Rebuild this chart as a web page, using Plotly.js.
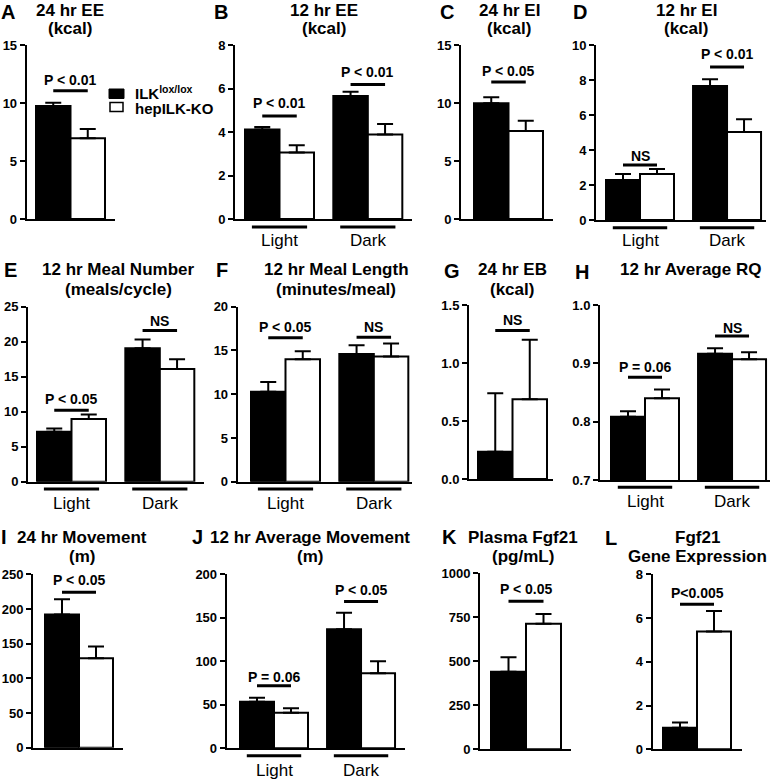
<!DOCTYPE html>
<html>
<head>
<meta charset="utf-8">
<script src="https://cdn.plot.ly/plotly-3.0.1.min.js"></script>
<style>html,body{margin:0;padding:0;background:#fff;}#chart{width:777px;height:779px;}</style>
</head>
<body>
<div id="chart"></div>
<script>
// ---------------- DATA ----------------
const periods = ['Light', 'Dark'];
const seriesNames = ['ILK<sup>lox/lox</sup>', 'hepILK-KO'];

// A 24 hr EE (kcal)
const A_ctrl = [9.74], A_ctrl_err = [0.29], A_ko = [6.96], A_ko_err = [0.80];
// B 12 hr EE (kcal)  [Light, Dark]
const B_ctrl = [4.11, 5.66], B_ctrl_err = [0.12, 0.19], B_ko = [3.06, 3.89], B_ko_err = [0.33, 0.48];
// C 24 hr EI (kcal)
const C_ctrl = [9.97], C_ctrl_err = [0.53], C_ko = [7.59], C_ko_err = [0.88];
// D 12 hr EI (kcal)
const D_ctrl = [2.29, 7.66], D_ctrl_err = [0.34, 0.38], D_ko = [2.63, 5.03], D_ko_err = [0.28, 0.72];
// E 12 hr Meal Number
const E_ctrl = [7.14, 19.05], E_ctrl_err = [0.46, 1.25], E_ko = [8.96, 16.1], E_ko_err = [0.64, 1.4];
// F 12 hr Meal Length
const F_ctrl = [10.29, 14.6], F_ctrl_err = [1.1, 1.0], F_ko = [14.0, 14.3], F_ko_err = [0.9, 1.5];
// G 24 hr EB (kcal)
const G_ctrl = [0.235], G_ctrl_err = [0.505], G_ko = [0.687], G_ko_err = [0.513];
// H 12 hr Average RQ
const H_ctrl = [0.8085, 0.9165], H_ctrl_err = [0.0095, 0.0095], H_ko = [0.840, 0.907], H_ko_err = [0.015, 0.012];
// I 24 hr Movement (m)
const I_ctrl = [192], I_ctrl_err = [22], I_ko = [129], I_ko_err = [17];
// J 12 hr Average Movement (m)
const J_ctrl = [53.6, 136.8], J_ctrl_err = [4.6, 19], J_ko = [40.9, 86.2], J_ko_err = [5, 14];
// K Plasma Fgf21 (pg/mL)
const K_ctrl = [441], K_ctrl_err = [82], K_ko = [714], K_ko_err = [55];
// L Fgf21 Gene Expression
const L_ctrl = [0.99], L_ctrl_err = [0.23], L_ko = [5.38], L_ko_err = [0.94];

// significance labels
const A_sig = ['P < 0.01'], B_sig = ['P < 0.01', 'P < 0.01'], C_sig = ['P < 0.05'], D_sig = ['NS', 'P < 0.01'];
const E_sig = ['P < 0.05', 'NS'], F_sig = ['P < 0.05', 'NS'], G_sig = ['NS'], H_sig = ['P = 0.06', 'NS'];
const I_sig = ['P < 0.05'], J_sig = ['P = 0.06', 'P < 0.05'], K_sig = ['P < 0.05'], L_sig = ['P<0.005'];

// y tick values
const A_ticks = [0, 5, 10, 15], B_ticks = [0, 2, 4, 6, 8], C_ticks = [0, 5, 10, 15], D_ticks = [0, 2, 4, 6, 8, 10];
const E_ticks = [0, 5, 10, 15, 20, 25], F_ticks = [0, 5, 10, 15, 20], G_ticks = [0, 0.5, 1.0, 1.5], H_ticks = [0.7, 0.8, 0.9, 1.0];
const I_ticks = [0, 50, 100, 150, 200, 250], J_ticks = [0, 50, 100, 150, 200], K_ticks = [0, 250, 500, 750, 1000], L_ticks = [0, 2, 4, 6, 8];
const G_tickText = ['0.0', '0.5', '1.0', '1.5'];
const H_tickText = ['0.7', '0.8', '0.9', '1.0'];

// ---------------- LAYOUT CONFIG (positions / styles) ----------------
const W = 777, H = 779;
const FONT = '"Liberation Sans", Arial, Helvetica, sans-serif';
const GAP = 2.56;

const panels = [
  {L:'A', lx:8, ly:10, t1:'24 hr EE', t2:'(kcal)', tx:70, ty1:9, ty2:28, x0:26.7, x1:115, top:45, bot:219, bl:36, w:34.5,
   yr:[0,15], ticks:A_ticks, ctrl:A_ctrl, ce:A_ctrl_err, ko:A_ko, ke:A_ko_err, sig:A_sig, sy:[11.06], ty:[12.0]},
  {L:'B', lx:221, ly:10, t1:'12 hr EE', t2:'(kcal)', tx:324, ty1:9, ty2:28, x0:235, x1:412, top:45, bot:219, bl:245, w:34.5,
   yr:[0,8], ticks:B_ticks, ctrl:B_ctrl, ce:B_ctrl_err, ko:B_ko, ke:B_ko_err, sig:B_sig, sy:[4.74,6.18], ty:[5.33,6.76], ul:227, ull:240},
  {L:'C', lx:447, ly:10, t1:'24 hr EI', t2:'(kcal)', tx:509, ty1:9, ty2:28, x0:461, x1:553, top:45, bot:219, bl:474, w:34.5,
   yr:[0,15], ticks:C_ticks, ctrl:C_ctrl, ce:C_ctrl_err, ko:C_ko, ke:C_ko_err, sig:C_sig, sy:[11.8], ty:[12.76]},
  {L:'D', lx:580, ly:10, t1:'12 hr EI', t2:'(kcal)', tx:686, ty1:9, ty2:28, x0:596, x1:766, top:45, bot:220, bl:606, w:34,
   yr:[0,10], ticks:D_ticks, ctrl:D_ctrl, ce:D_ctrl_err, ko:D_ko, ke:D_ko_err, sig:D_sig, sy:[3.14,8.74], ty:[3.66,9.47], ul:227.7, ull:240},
  {L:'E', lx:10, ly:270, t1:'12 hr Meal Number', t2:'(meals/cycle)', tx:118, ty1:270, ty2:289, x0:28, x1:204, top:306.7, bot:481.7, bl:37, w:34.5,
   yr:[0,25], ticks:E_ticks, ctrl:E_ctrl, ce:E_ctrl_err, ko:E_ko, ke:E_ko_err, sig:E_sig, sy:[10.2,21.6], ty:[11.8,22.96], ul:489, ull:503},
  {L:'F', lx:222, ly:270, t1:'12 hr Meal Length', t2:'(minutes/meal)', tx:336, ty1:270, ty2:289, x0:237.7, x1:412, top:306.7, bot:481.7, bl:251, w:34.5,
   yr:[0,20], ticks:F_ticks, ctrl:F_ctrl, ce:F_ctrl_err, ko:F_ko, ke:F_ko_err, sig:F_sig, sy:[16.46,16.5], ty:[17.7,17.7], ul:489, ull:503},
  {L:'G', lx:452, ly:271, t1:'24 hr EB', t2:'(kcal)', tx:512, ty1:270, ty2:289, x0:469, x1:553, top:305, bot:479, bl:478, w:34.5,
   yr:[0,1.5], ticks:G_ticks, tickText:G_tickText, ctrl:G_ctrl, ce:G_ctrl_err, ko:G_ko, ke:G_ko_err, sig:G_sig, sy:[1.28], ty:[1.37]},
  {L:'H', lx:582, ly:272, t1:'12 hr Average RQ', t2:'', tx:690, ty1:270, ty2:289, x0:600, x1:770, top:305, bot:480, bl:611, w:34,
   yr:[0.7,1.0], ticks:H_ticks, tickText:H_tickText, ctrl:H_ctrl, ce:H_ctrl_err, ko:H_ko, ke:H_ko_err, sig:H_sig, sy:[0.876,0.947], ty:[0.894,0.961], ul:487.3, ull:501},
  {L:'I', lx:4, ly:537, t1:'24 hr Movement', t2:'(m)', tx:82, ty1:537, ty2:556, x0:33, x1:123, top:574.3, bot:747.7, bl:45, w:34,
   yr:[0,250], ticks:I_ticks, ctrl:I_ctrl, ce:I_ctrl_err, ko:I_ko, ke:I_ko_err, sig:I_sig, sy:[224], ty:[242]},
  {L:'J', lx:197, ly:537, t1:'12 hr Average Movement', t2:'(m)', tx:310, ty1:537, ty2:556, x0:226.7, x1:405, top:574.3, bot:748.3, bl:240, w:34,
   yr:[0,200], ticks:J_ticks, ctrl:J_ctrl, ce:J_ctrl_err, ko:J_ko, ke:J_ko_err, sig:J_sig, sy:[72,168.6], ty:[82.4,182.4], ul:755.7, ull:770},
  {L:'K', lx:450, ly:537, t1:'Plasma Fgf21', t2:'(pg/mL)', tx:523, ty1:537, ty2:556, x0:480, x1:571, top:573.3, bot:749.3, bl:491, w:35,
   yr:[0,1000], ticks:K_ticks, ctrl:K_ctrl, ce:K_ctrl_err, ko:K_ko, ke:K_ko_err, sig:K_sig, sy:[841], ty:[909]},
  {L:'L', lx:611, ly:538, t1:'Fgf21', t2:'Gene Expression', tx:697, ty1:537, ty2:556, x0:652.7, x1:741.7, top:574.3, bot:749.3, bl:663, w:34,
   yr:[0,8], ticks:L_ticks, ctrl:L_ctrl, ce:L_ctrl_err, ko:L_ko, ke:L_ko_err, sig:L_sig, sy:[6.63], ty:[7.13]}
];

const px = p => p / W;
const py = p => 1 - p / H;

const data = [];
const layout = {
  width: W, height: H,
  margin: {l: 0, r: 0, t: 0, b: 0, pad: 0},
  paper_bgcolor: '#fff', plot_bgcolor: 'rgba(0,0,0,0)',
  showlegend: false, barmode: 'overlay',
  font: {family: FONT, color: '#000'},
  shapes: [], annotations: []
};

panels.forEach((p, i) => {
  const n = i + 1;
  const xs = n === 1 ? '' : String(n);
  const xa = 'x' + xs, ya = 'y' + xs;
  const cx = p.ctrl.map((_, g) => g * GAP);
  const kx = p.ko.map((_, g) => g * GAP + 1);
  const zeros = p.ctrl.map(() => 0);

  data.push({
    type: 'bar', name: seriesNames[0], x: cx, y: p.ctrl, width: 1, xaxis: xa, yaxis: ya,
    marker: {color: '#000', line: {color: '#000', width: 2}},
    error_y: {type: 'data', symmetric: false, array: p.ce, arrayminus: zeros, color: '#000', thickness: 2, width: 8},
    hoverinfo: 'y'
  });
  data.push({
    type: 'bar', name: seriesNames[1], x: kx, y: p.ko, width: 1, xaxis: xa, yaxis: ya,
    marker: {color: '#fff', line: {color: '#000', width: 2}},
    error_y: {type: 'data', symmetric: false, array: p.ke, arrayminus: zeros, color: '#000', thickness: 2, width: 8},
    hoverinfo: 'y'
  });

  const left = -0.5 - (p.bl - p.x0) / p.w;
  const right = left + (p.x1 - p.x0) / p.w;

  layout['xaxis' + xs] = {
    domain: [px(p.x0), px(p.x1)], range: [left, right], anchor: ya,
    showline: true, linewidth: 2, linecolor: '#000', showgrid: false, zeroline: false,
    showticklabels: false, ticks: '', fixedrange: true
  };
  const yax = {
    domain: [py(p.bot), py(p.top)], range: p.yr, anchor: xa,
    showline: true, linewidth: 2, linecolor: '#000', showgrid: false, zeroline: false,
    ticks: 'outside', ticklen: 5, tickwidth: 2, tickcolor: '#000',
    tickmode: 'array', tickvals: p.ticks,
    tickfont: {family: FONT, size: 13, color: '#000', weight: 'bold'}, fixedrange: true
  };
  if (p.tickText) yax.ticktext = p.tickText;
  layout['yaxis' + xs] = yax;

  // significance lines and labels
  p.sig.forEach((s, g) => {
    layout.shapes.push({type: 'line', xref: xa, yref: ya, x0: g * GAP, x1: g * GAP + 1, y0: p.sy[g], y1: p.sy[g],
      line: {color: '#000', width: 3}});
    layout.annotations.push({xref: xa, yref: ya, x: g * GAP + 0.5, y: p.ty[g], text: s, showarrow: false,
      xanchor: 'center', yanchor: 'middle', font: {family: FONT, size: 14, color: '#000', weight: 'bold'}});
  });

  // Light / Dark underlines
  if (p.ul !== undefined) {
    periods.forEach((per, g) => {
      layout.shapes.push({type: 'line', xref: xa, yref: 'paper', x0: g * GAP - 0.3, x1: g * GAP + 1.3,
        y0: py(p.ul), y1: py(p.ul), line: {color: '#000', width: 3}});
      layout.annotations.push({xref: xa, yref: 'paper', x: g * GAP + 0.5, y: py(p.ull), text: per, showarrow: false,
        xanchor: 'center', yanchor: 'middle', font: {family: FONT, size: 17, color: '#000'}});
    });
  }

  const topRow = p.ly < 40;
  // panel letter
  layout.annotations.push({xref: 'paper', yref: 'paper', x: px(p.lx), y: topRow ? 1 : py(p.ly), text: p.L, showarrow: false,
    xanchor: 'center', yanchor: topRow ? 'top' : 'middle', borderpad: 0,
    font: {family: FONT, size: 20, color: '#000', weight: 'bold'}});
  // titles
  layout.annotations.push({xref: 'paper', yref: 'paper', x: px(p.tx), y: topRow ? 1 : py(p.ty1), text: p.t1, showarrow: false,
    xanchor: 'center', yanchor: topRow ? 'top' : 'middle', borderpad: 0,
    font: {family: FONT, size: 17, color: '#000', weight: 'bold'}});
  if (p.t2) layout.annotations.push({xref: 'paper', yref: 'paper', x: px(p.tx), y: py(p.ty2), text: p.t2, showarrow: false,
    xanchor: 'center', yanchor: 'middle', font: {family: FONT, size: 17, color: '#000', weight: 'bold'}});
});

// manual legend (panel A)
layout.shapes.push({type: 'rect', xref: 'paper', yref: 'paper', x0: px(109), x1: px(124), y0: py(98.5), y1: py(89),
  fillcolor: '#000', line: {color: '#000', width: 1}});
layout.shapes.push({type: 'rect', xref: 'paper', yref: 'paper', x0: px(110), x1: px(123), y0: py(111.5), y1: py(102.5),
  fillcolor: '#fff', line: {color: '#000', width: 1.5}});
layout.annotations.push({xref: 'paper', yref: 'paper', x: px(134), y: py(92.5), text: seriesNames[0], showarrow: false,
  xanchor: 'left', yanchor: 'middle', borderpad: 0, font: {family: FONT, size: 15, color: '#000', weight: 'bold'}});
layout.annotations.push({xref: 'paper', yref: 'paper', x: px(134), y: py(108.5), text: seriesNames[1], showarrow: false,
  xanchor: 'left', yanchor: 'middle', borderpad: 0, font: {family: FONT, size: 15, color: '#000', weight: 'bold'}});

Plotly.newPlot('chart', data, layout, {staticPlot: true, displayModeBar: false});
</script>
</body>
</html>
